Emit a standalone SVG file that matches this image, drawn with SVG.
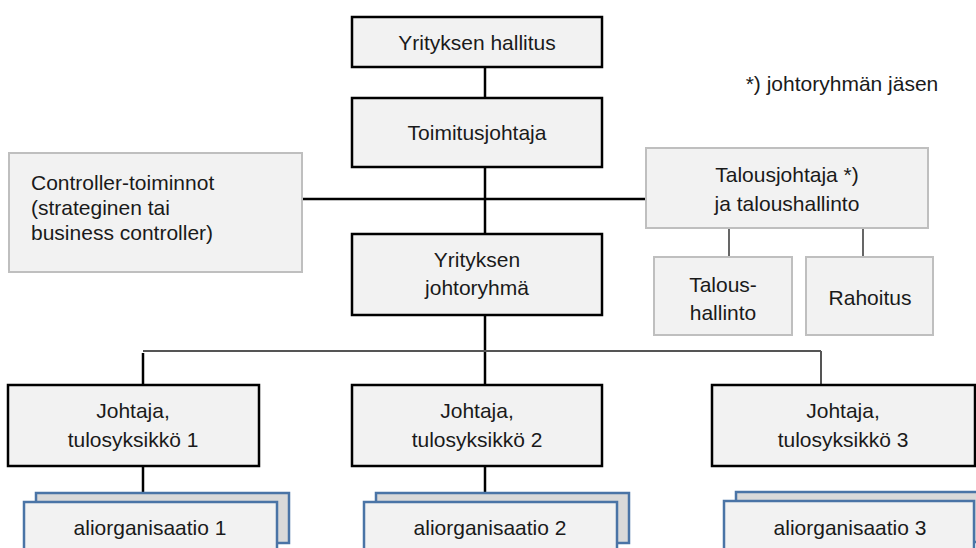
<svg xmlns="http://www.w3.org/2000/svg" width="976" height="548" viewBox="0 0 976 548">
<style>
text{font-family:"Liberation Sans",Arial,sans-serif;font-size:21px;fill:#1a1a1a;text-anchor:middle}
.b{fill:#f2f2f2;stroke:#000;stroke-width:2.5}
.g{fill:#f2f2f2;stroke:#bfbfbf;stroke-width:2}
.sb{fill:#d9d9d9;stroke:#4a74a6;stroke-width:2.5}
.sf{fill:#f2f2f2;stroke:#4a74a6;stroke-width:2.5}
.k{stroke:#000;stroke-width:2.5;fill:none}
.t{stroke:#000;stroke-width:1.2;fill:none}
.gr{stroke:#555;stroke-width:2;fill:none}
</style>
<rect width="976" height="548" fill="#fff"/>
<g id="connectors">
<line class="k" x1="485" y1="67" x2="485" y2="98"/>
<line class="k" x1="485" y1="167" x2="485" y2="234"/>
<line class="k" x1="302" y1="199" x2="646" y2="199"/>
<line class="t" x1="729" y1="228" x2="729" y2="257"/>
<line class="t" x1="863" y1="228" x2="863" y2="257"/>
<line class="k" x1="485" y1="315" x2="485" y2="385"/>
<line class="gr" x1="143" y1="351" x2="821" y2="351"/>
<line class="k" x1="143" y1="353" x2="143" y2="385"/>
<line class="gr" x1="821" y1="351" x2="821" y2="385"/>
<line class="k" x1="143" y1="466" x2="143" y2="493"/>
<line class="k" x1="485" y1="466" x2="485" y2="493"/>
</g>
<g id="hallitus"><rect class="b" x="352" y="17" width="250" height="50"/><text x="477" y="50">Yrityksen hallitus</text></g>
<g id="toimitusjohtaja"><rect class="b" x="352" y="98" width="250" height="69"/><text x="477" y="140">Toimitusjohtaja</text></g>
<g id="note"><text x="842" y="91">*) johtoryhmän jäsen</text></g>
<g id="controller"><rect class="g" x="9" y="153" width="293" height="119"/>
<text x="31" y="190" style="text-anchor:start">Controller-toiminnot</text>
<text x="31" y="215" style="text-anchor:start">(strateginen tai</text>
<text x="31" y="240" style="text-anchor:start">business controller)</text></g>
<g id="talousjohtaja"><rect class="g" x="646" y="148" width="282" height="80"/>
<text x="787" y="182">Talousjohtaja *)</text><text x="787" y="211">ja taloushallinto</text></g>
<g id="taloushallinto"><rect class="g" x="654" y="257" width="138" height="78"/>
<text x="723" y="292">Talous-</text><text x="723" y="320">hallinto</text></g>
<g id="rahoitus"><rect class="g" x="806" y="257" width="127" height="78"/><text x="870" y="305">Rahoitus</text></g>
<g id="johtoryhma"><rect class="b" x="352" y="234" width="250" height="81"/>
<text x="477" y="267">Yrityksen</text><text x="477" y="295">johtoryhmä</text></g>
<g id="johtaja1"><rect class="b" x="8" y="385" width="251" height="81"/>
<text x="133" y="418">Johtaja,</text><text x="133" y="447">tulosyksikkö 1</text></g>
<g id="johtaja2"><rect class="b" x="352" y="385" width="250" height="81"/>
<text x="477" y="418">Johtaja,</text><text x="477" y="447">tulosyksikkö 2</text></g>
<g id="johtaja3"><rect class="b" x="712" y="385" width="263" height="81"/>
<text x="843" y="418">Johtaja,</text><text x="843" y="447">tulosyksikkö 3</text></g>
<g id="ali1"><rect class="sb" x="36" y="493" width="253" height="50"/><rect class="sf" x="24" y="502" width="253" height="60"/>
<text x="150" y="535">aliorganisaatio 1</text></g>
<g id="ali2"><rect class="sb" x="376" y="493" width="253" height="50"/><rect class="sf" x="364" y="502" width="253" height="60"/>
<text x="490" y="535">aliorganisaatio 2</text></g>
<g id="ali3"><rect class="sb" x="736" y="492" width="253" height="50"/><rect class="sf" x="724" y="501" width="250" height="60"/>
<text x="850" y="535">aliorganisaatio 3</text></g>
</svg>
